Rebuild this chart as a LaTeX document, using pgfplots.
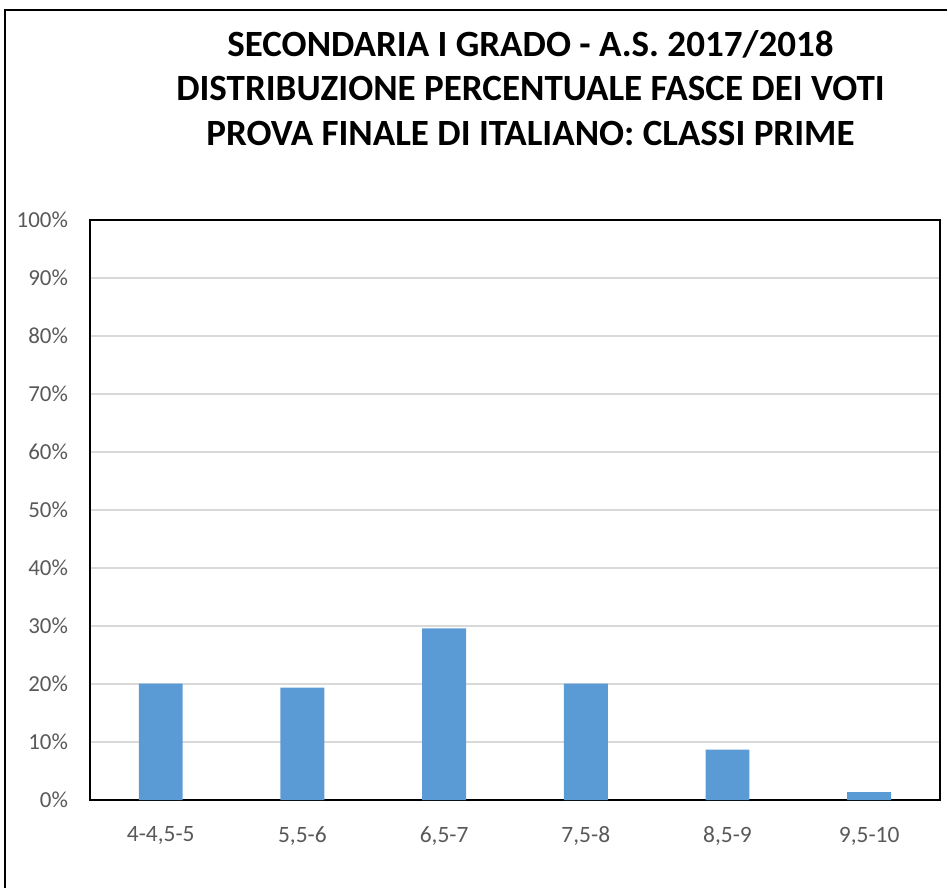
\documentclass[border=0pt]{standalone}
\usepackage{pgfplots}
\pgfplotsset{compat=1.18}
\usepackage{fontspec}
\setmainfont{Carlito}
\definecolor{barblue}{HTML}{5B9BD5}
\definecolor{gridgray}{HTML}{D9D9D9}
\definecolor{labgray}{HTML}{595959}

\begin{document}
\begin{tikzpicture}
  % page extent: 948 x 889 px at 0.75pt per px
  \path (0pt,0pt) rectangle (711pt,-666.75pt);
  % outer chart frame (cut off at right and bottom)
  \draw[black,line width=1.5pt] (3.75pt,-666.75pt) -- (3.75pt,-7.5pt) -- (711pt,-7.5pt);
  % title
  \node[font=\bfseries\fontsize{27.8}{33.5}\selectfont,align=center] at (398.25pt,-66pt)
    {SECONDARIA I GRADO - A.S. 2017/2018\\DISTRIBUZIONE PERCENTUALE FASCE DEI VOTI\\PROVA FINALE DI ITALIANO: CLASSI PRIME};
  \begin{axis}[
      at={(67.5pt,-165pt)},anchor=north west,
      scale only axis,
      width=638.25pt,height=435.75pt,
      ybar,bar width=33pt,
      xmin=-0.5,xmax=5.5,ymin=0,ymax=100,
      xtick=data,
      xticklabels={{4-4,5-5},{5,5-6},{6,5-7},{7,5-8},{8,5-9},{9,5-10}},
      ytick={0,10,...,100},
      yticklabels={0\%,10\%,20\%,30\%,40\%,50\%,60\%,70\%,80\%,90\%,100\%},
      major tick length=0pt,
      ymajorgrids,
      grid style={gridgray,line width=1.1pt},
      axis line style={black,line width=1.6pt},
      tick label style={labgray,font=\fontsize{17.2}{20}\selectfont},
      yticklabel style={xshift=-13pt},
      xticklabel style={yshift=-16.5pt,font=\fontsize{17.6}{20}\selectfont},
      /pgf/number format/assume math mode=true,
    ]
    \addplot[fill=barblue,draw=none] coordinates
      {(0,20.1) (1,19.4) (2,29.6) (3,20.1) (4,8.7) (5,1.4)};
  \end{axis}
\end{tikzpicture}
\end{document}
